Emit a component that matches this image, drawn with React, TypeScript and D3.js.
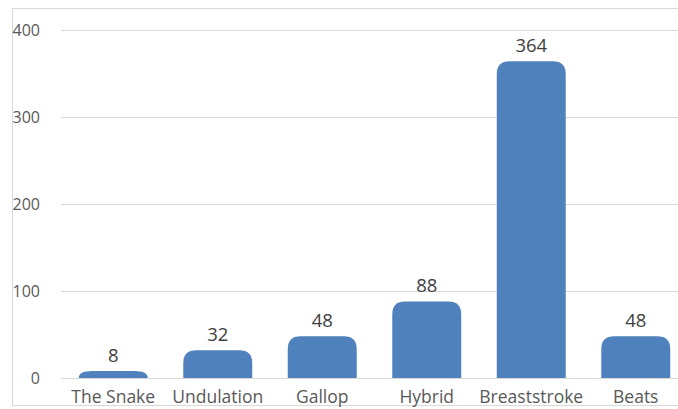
import React, { useEffect, useRef } from "react";
import * as d3 from "d3";

const categories = ["The Snake", "Undulation", "Gallop", "Hybrid", "Breaststroke", "Beats"];
const values = [8, 32, 48, 88, 364, 48];
const yTicks = [0, 100, 200, 300, 400];

const App = () => {
  const svgRef = useRef<SVGSVGElement | null>(null);

  useEffect(() => {
    const width = 678;
    const height = 409;
    const font = "Open Sans, sans-serif";

    const x = d3.scaleBand().domain(categories).range([61, 688]).paddingInner(0.34).paddingOuter(0.17);
    const y = d3.scaleLinear().domain([0, 400]).range([378, 30]);

    const svg = d3.select(svgRef.current);
    svg.selectAll("*").remove();
    svg.attr("width", width).attr("height", height);

    // Chart frame
    svg
      .append("rect")
      .attr("x", 12.5)
      .attr("y", 8.5)
      .attr("width", 700)
      .attr("height", 397)
      .attr("fill", "#fff")
      .attr("stroke", "#D9D9D9")
      .attr("stroke-width", 1);

    // Gridlines
    svg
      .selectAll(".grid")
      .data(yTicks)
      .enter()
      .append("line")
      .attr("x1", 61)
      .attr("x2", width)
      .attr("y1", (d) => Math.round(y(d)) + 0.5)
      .attr("y2", (d) => Math.round(y(d)) + 0.5)
      .attr("stroke", "#D9D9D9")
      .attr("stroke-width", 1.2);

    // Y tick labels
    svg
      .selectAll(".ytick")
      .data(yTicks)
      .enter()
      .append("text")
      .attr("x", 40)
      .attr("y", (d) => y(d))
      .attr("dy", "0.35em")
      .attr("text-anchor", "end")
      .style("font-family", font)
      .style("font-size", "16px")
      .style("fill", "#595959")
      .text((d) => d);

    // Bars with rounded tops
    const r = 13;
    svg
      .selectAll(".bar")
      .data(values)
      .enter()
      .append("path")
      .attr("fill", "#4F81BD")
      .attr("d", (d, i) => {
        const x0 = x(categories[i])!;
        const w = x.bandwidth();
        const y0 = y(0);
        const y1 = y(d);
        const rr = Math.min(r, w / 2);
        const ry = Math.min(rr, y0 - y1);
        return `M${x0},${y0} L${x0},${y1 + ry} Q${x0},${y1} ${x0 + rr},${y1} L${x0 + w - rr},${y1} Q${x0 + w},${y1} ${x0 + w},${y1 + ry} L${x0 + w},${y0} Z`;
      });

    // Value labels
    svg
      .selectAll(".val")
      .data(values)
      .enter()
      .append("text")
      .attr("x", (_, i) => x(categories[i])! + x.bandwidth() / 2)
      .attr("y", (d) => y(d) - 9)
      .attr("text-anchor", "middle")
      .style("font-family", font)
      .style("font-size", "18.5px")
      .style("fill", "#404040")
      .text((d) => d);

    // Category labels
    svg
      .selectAll(".cat")
      .data(categories)
      .enter()
      .append("text")
      .attr("x", (d) => x(d)! + x.bandwidth() / 2)
      .attr("y", 403)
      .attr("text-anchor", "middle")
      .style("font-family", font)
      .style("font-size", "17.5px")
      .style("fill", "#595959")
      .text((d) => d);
  }, []);

  return (
    <div style={{ position: "absolute", left: 0, top: 0 }}>
      <svg ref={svgRef} style={{ display: "block" }}></svg>
    </div>
  );
};

export default App;
